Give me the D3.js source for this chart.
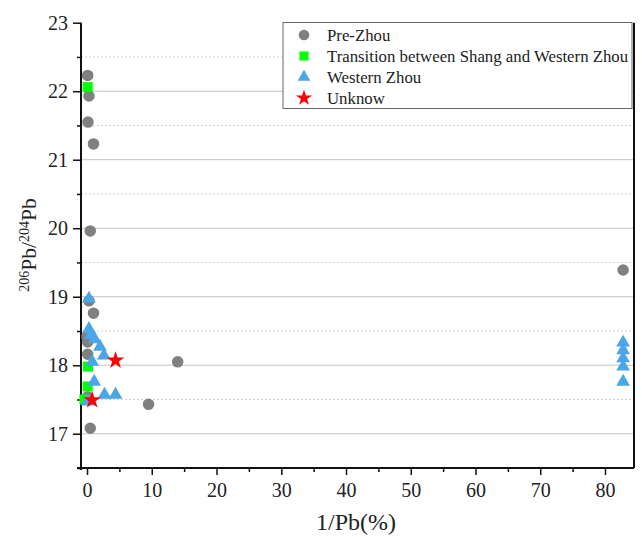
<!DOCTYPE html>
<html>
<head>
<meta charset="utf-8">
<script src="https://cdn.jsdelivr.net/npm/d3@7"></script>
<style>
body{margin:0;background:#fff;}
</style>
</head>
<body>
<svg id="chart" width="642" height="537"></svg>
<script>
// ---- data ----
const seriesNames = ["Pre-Zhou","Transition between Shang and Western Zhou","Western Zhou","Unknow"];
const preZhou = [
  [0.1,22.23],[0.3,21.93],[0.15,21.55],[1.0,21.23],[0.5,19.96],[0.3,18.94],[1.0,18.76],
  [0.0,18.42],[0.1,18.34],[0.1,18.16],[0.1,17.54],[0.5,17.08],[9.5,17.43],[14.0,18.05],[82.8,19.39]
];
const transition = [[0.1,22.06],[0.15,17.98],[0.1,17.69],[-0.4,17.50]];
const westernZhou = [
  [0.3,18.97],[0.3,18.53],[0.6,18.44],[1.2,18.38],[2.0,18.27],[2.6,18.14],[0.8,18.05],
  [1.1,17.76],[0.1,17.47],[2.7,17.57],[4.4,17.57],
  [82.8,18.33],[82.8,18.22],[82.8,18.10],[82.8,17.98],[82.8,17.76]
];
const unknow = [[4.4,18.07],[0.8,17.49]];
const xTicks = [0,10,20,30,40,50,60,70,80];
const yTicks = [17,18,19,20,21,22,23];

const FONT = "Liberation Serif";
const svg = d3.select("#chart");
const L=81, R=634, T=22.7, B=468;
const x = d3.scaleLinear().domain([-0.93,84.48]).range([L,R]);
const y = d3.scaleLinear().domain([16.5,23]).range([B,T]);

// grid
const minorY = d3.range(17.5,23,1);
svg.append("g").selectAll("line").data(minorY).join("line")
  .attr("x1",L).attr("x2",R).attr("y1",d=>y(d)).attr("y2",d=>y(d))
  .attr("stroke","#cfcfcf").attr("stroke-width",1).attr("stroke-dasharray","2,2");
svg.append("g").selectAll("line").data(yTicks.filter(d=>d<23)).join("line")
  .attr("x1",L).attr("x2",R).attr("y1",d=>y(d)).attr("y2",d=>y(d))
  .attr("stroke","#c4c4c4").attr("stroke-width",1);

// axes
const xAxis = d3.axisBottom(x).tickValues(xTicks).tickSize(7).tickPadding(8).tickFormat(d3.format("d"));
const gx = svg.append("g").attr("transform",`translate(0,${B})`).call(xAxis);
gx.attr("font-family",FONT).attr("font-size",20);
gx.select(".domain").remove();
gx.selectAll("text").attr("fill","#222");
gx.selectAll("line").attr("stroke","#111").attr("stroke-width",1.5);
svg.append("g").attr("transform",`translate(0,${B})`)
  .call(d3.axisBottom(x).tickValues(d3.range(5,85,10)).tickSize(4).tickFormat(""))
  .call(g=>{g.select(".domain").remove();g.selectAll("line").attr("stroke","#111").attr("stroke-width",1.5);});

const yAxis = d3.axisLeft(y).tickValues(yTicks).tickSize(8).tickPadding(5).tickFormat(d3.format("d"));
const gy = svg.append("g").attr("transform",`translate(${L},0)`).call(yAxis);
gy.attr("font-family",FONT).attr("font-size",20);
gy.select(".domain").remove();
gy.selectAll("text").attr("fill","#222");
gy.selectAll("line").attr("stroke","#111").attr("stroke-width",1.5);
svg.append("g").attr("transform",`translate(${L},0)`)
  .call(d3.axisLeft(y).tickValues(d3.range(16.5,23,1)).tickSize(4).tickFormat(""))
  .call(g=>{g.select(".domain").remove();g.selectAll("line").attr("stroke","#111").attr("stroke-width",1.5);});

// frame lines
svg.append("line").attr("x1",L-4).attr("x2",R).attr("y1",B).attr("y2",B).attr("stroke","#111").attr("stroke-width",2);
svg.append("line").attr("x1",L).attr("x2",L).attr("y1",T).attr("y2",B+2).attr("stroke","#111").attr("stroke-width",2);
svg.append("line").attr("x1",R).attr("x2",R).attr("y1",T).attr("y2",B).attr("stroke","#111").attr("stroke-width",2);

// marks
const styles = [
  {data:preZhou, sym:d3.symbolCircle, size:105, color:"#808080"},
  {data:transition, sym:d3.symbolSquare, size:100, color:"#00ff00"},
  {data:westernZhou, sym:d3.symbolTriangle, size:82, color:"#4aa6e6"},
  {data:unknow, sym:d3.symbolStar, size:95, color:"#ff0000"}
];
styles.forEach(s=>{
  svg.append("g").selectAll("path").data(s.data).join("path")
    .attr("d",d3.symbol().type(s.sym).size(s.size))
    .attr("transform",d=>`translate(${x(d[0])},${y(d[1])})`)
    .attr("fill",s.color);
});

// legend
const lg = svg.append("g");
lg.append("rect").attr("x",283).attr("y",22.5).attr("width",349).attr("height",86)
  .attr("fill","#fff").attr("stroke","#666").attr("stroke-width",1);
styles.forEach((s,i)=>{
  const cy = 35 + i*21;
  lg.append("path").attr("d",d3.symbol().type(s.sym).size(s.size*0.85)).attr("transform",`translate(304,${cy})`).attr("fill",s.color);
  lg.append("text").attr("x",327).attr("y",cy).attr("dy","0.35em")
    .attr("font-family",FONT).attr("font-size",16.8).attr("fill","#222").text(seriesNames[i]);
});

// titles
svg.append("text").attr("x",356).attr("y",530).attr("text-anchor","middle")
  .attr("font-family",FONT).attr("font-size",24).attr("fill","#222").text("1/Pb(%)");
const yt = svg.append("text").attr("transform","translate(36,245) rotate(-90)").attr("text-anchor","middle")
  .attr("font-family",FONT).attr("font-size",21.5).attr("fill","#222");
yt.append("tspan").attr("baseline-shift","super").attr("font-size",14).text("206");
yt.append("tspan").text("Pb/");
yt.append("tspan").attr("baseline-shift","super").attr("font-size",14).text("204");
yt.append("tspan").text("Pb");
</script>
</body>
</html>
